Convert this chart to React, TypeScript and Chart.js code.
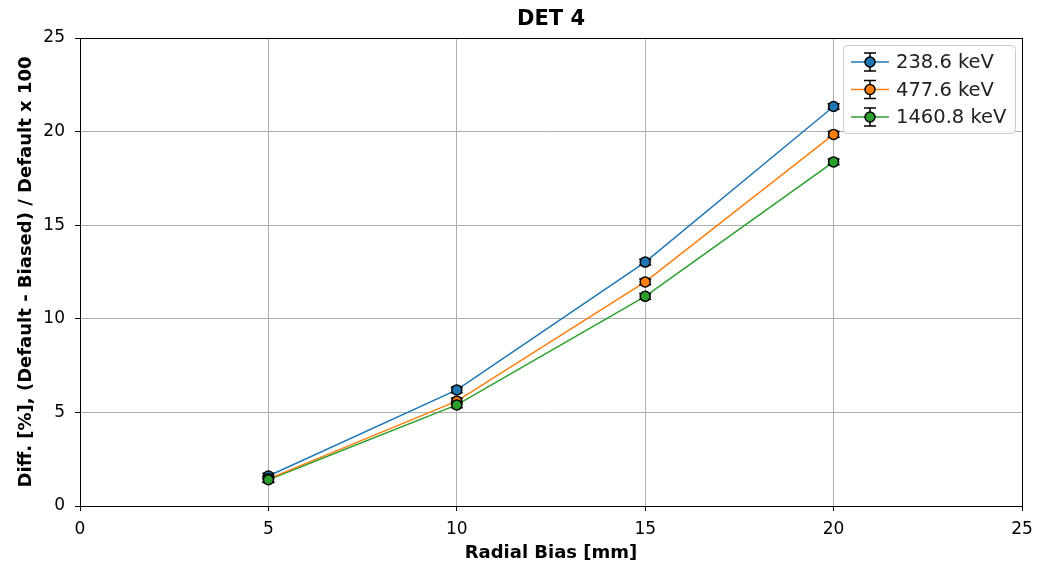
import React, { useEffect, useRef } from "react";
import { Chart, registerables } from "chart.js";
Chart.register(...registerables);

const xValues = [5, 10, 15, 20];
const seriesLabels = ["238.6 keV", "477.6 keV", "1460.8 keV"];
const seriesColors = ["#1f77b4", "#ff7f0e", "#2ca02c"];
const s1 = [1.6, 6.2, 13.03, 21.34];
const s2 = [1.45, 5.6, 11.97, 19.85];
const s3 = [1.4, 5.4, 11.2, 18.38];
const e1 = [0.15, 0.15, 0.15, 0.15];
const e2 = [0.15, 0.15, 0.15, 0.15];
const e3 = [0.15, 0.15, 0.15, 0.15];
const xTicks = [0, 5, 10, 15, 20, 25];
const yTicks = [0, 5, 10, 15, 20, 25];
const titleText = "DET 4";
const xTitle = "Radial Bias [mm]";
const yTitle = "Diff. [%], (Default - Biased) / Default x 100";

const FONT = "'DejaVu Sans', sans-serif";

export default function App() {
  const ref = useRef<HTMLCanvasElement>(null);
  useEffect(() => {
    const values = [s1, s2, s3];
    const errs = [e1, e2, e3];
    const errorPlugin = {
      id: "errs",
      afterDatasetsDraw(chart: any) {
        const ctx = chart.ctx;
        const xs = chart.scales.x;
        const ys = chart.scales.y;
        const ca = chart.chartArea;
        ctx.save();
        ctx.strokeStyle = "#000";
        ctx.lineWidth = 1;
        ctx.strokeRect(Math.round(ca.left) + 0.5, Math.round(ca.top) + 0.5, Math.round(ca.right - ca.left), Math.round(ca.bottom - ca.top));
        ctx.lineWidth = 1.5;
        values.forEach((vals, si) => {
          vals.forEach((v, i) => {
            const px = xs.getPixelForValue(xValues[i]);
            const top = ys.getPixelForValue(v + errs[si][i]);
            const bot = ys.getPixelForValue(v - errs[si][i]);
            ctx.beginPath();
            ctx.moveTo(px, top);
            ctx.lineTo(px, bot);
            ctx.moveTo(px - 6, top);
            ctx.lineTo(px + 6, top);
            ctx.moveTo(px - 6, bot);
            ctx.lineTo(px + 6, bot);
            ctx.stroke();
          });
        });
        values.forEach((vals, si) => {
          vals.forEach((v, i) => {
            const px = xs.getPixelForValue(xValues[i]);
            const py = ys.getPixelForValue(v);
            ctx.beginPath();
            ctx.arc(px, py, 5, 0, Math.PI * 2);
            ctx.fillStyle = seriesColors[si];
            ctx.fill();
            ctx.lineWidth = 1.5;
            ctx.stroke();
          });
        });
        ctx.restore();
      },
      afterDraw(chart: any) {
        const ctx = chart.ctx;
        ctx.save();
        ctx.fillStyle = "#000";
        ctx.font = "bold 21px " + FONT;
        ctx.textAlign = "center";
        ctx.textBaseline = "middle";
        const ca = chart.chartArea;
        ctx.fillText(titleText, (ca.left + ca.right) / 2, 20);
        const bx = 843.5, by = 45.5, bw = 172, bh = 88;
        ctx.beginPath();
        ctx.roundRect(bx, by, bw, bh, 4);
        ctx.fillStyle = "rgba(255,255,255,0.85)";
        ctx.fill();
        ctx.strokeStyle = "#cccccc";
        ctx.lineWidth = 1;
        ctx.stroke();
        seriesLabels.forEach((lab, i) => {
          const cy = 62 + i * 27.5;
          const mx = 870;
          ctx.strokeStyle = seriesColors[i];
          ctx.lineWidth = 1.5;
          ctx.beginPath();
          ctx.moveTo(851, cy);
          ctx.lineTo(889, cy);
          ctx.stroke();
          ctx.strokeStyle = "#000";
          ctx.beginPath();
          ctx.moveTo(mx, cy - 9);
          ctx.lineTo(mx, cy + 9);
          ctx.moveTo(mx - 6, cy - 9);
          ctx.lineTo(mx + 6, cy - 9);
          ctx.moveTo(mx - 6, cy + 9);
          ctx.lineTo(mx + 6, cy + 9);
          ctx.stroke();
          ctx.beginPath();
          ctx.arc(mx, cy, 5, 0, Math.PI * 2);
          ctx.fillStyle = seriesColors[i];
          ctx.fill();
          ctx.stroke();
          ctx.fillStyle = "#222";
          ctx.font = "19.5px " + FONT;
          ctx.textAlign = "left";
          ctx.textBaseline = "middle";
          ctx.fillText(lab, 896, cy + 1);
        });
        ctx.restore();
      },
    };

    const chart = new Chart(ref.current!, {
      type: "line",
      data: {
        datasets: values.map((vals, si) => ({
          label: seriesLabels[si],
          data: vals.map((v, i) => ({ x: xValues[i], y: v })),
          borderColor: seriesColors[si],
          backgroundColor: seriesColors[si],
          borderWidth: 1.5,
          pointRadius: 0,
          tension: 0,
        })),
      },
      options: {
        animation: false,
        responsive: false,
        layout: { padding: { top: 38, right: 16, left: 0, bottom: 0 } },
        plugins: { legend: { display: false }, title: { display: false }, tooltip: { enabled: false } },
        scales: {
          x: {
            type: "linear",
            min: 0,
            max: 25,
            afterBuildTicks: (s: any) => { s.ticks = xTicks.map((v) => ({ value: v })); },
            afterFit: (s: any) => { s.height = 58; s.paddingLeft = 0; s.paddingRight = 0; },
            grid: { color: "#b0b0b0", lineWidth: 1, tickColor: "#000", tickLength: 5 },
            border: { color: "#000", width: 1 },
            ticks: { color: "#000", font: { family: FONT, size: 17 }, padding: 8, maxRotation: 0 },
            title: { display: true, text: xTitle, color: "#000", font: { family: FONT, size: 18, weight: "bold" }, padding: { top: 0, bottom: 0 } },
          },
          y: {
            type: "linear",
            min: 0,
            max: 25,
            afterBuildTicks: (s: any) => { s.ticks = yTicks.map((v) => ({ value: v })); },
            afterFit: (s: any) => { s.width = 80; s.paddingTop = 0; s.paddingBottom = 0; },
            grid: { color: "#b0b0b0", lineWidth: 1, tickColor: "#000", tickLength: 5 },
            border: { color: "#000", width: 1 },
            ticks: { color: "#000", font: { family: FONT, size: 17 }, padding: 10 },
            title: { display: true, text: yTitle, color: "#000", font: { family: FONT, size: 18, weight: "bold" }, padding: { top: 16, bottom: 0 } },
          },
        },
      } as any,
      plugins: [errorPlugin],
    });
    return () => chart.destroy();
  }, []);
  return (
    <div style={{ position: "fixed", left: 0, top: 0, width: 1038, height: 564, background: "#fff" }}>
      <canvas ref={ref} width={1038} height={564} />
    </div>
  );
}
